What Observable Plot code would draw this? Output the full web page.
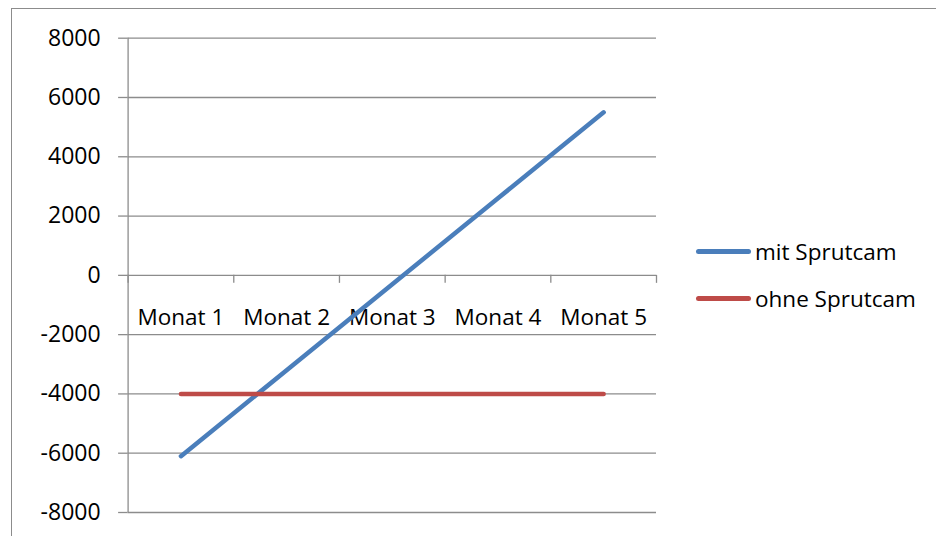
<!DOCTYPE html>
<html>
<head>
<meta charset="utf-8">
<script src="https://cdn.jsdelivr.net/npm/d3@7"></script>
<script src="https://cdn.jsdelivr.net/npm/@observablehq/plot@0.6"></script>
<style>
  html, body { margin: 0; padding: 0; background: #fff; }
  #wrap { position: relative; width: 936px; height: 536px; overflow: hidden; font-family: "Open Sans", sans-serif; }
  #frame { position: absolute; left: 11px; top: 8px; width: 940px; height: 540px; border: 1.5px solid #8c8c8c; box-sizing: border-box; }
  #chart { position: absolute; left: 0; top: 0; }
  #legend { position: absolute; left: 696px; top: 232px; font-size: 22.5px; color: #000; }
  .item { display: flex; align-items: center; height: 38px; margin-bottom: 9px; }
  .swatch { width: 55px; height: 5px; border-radius: 3px; margin-right: 4px; }
</style>
</head>
<body>
<div id="wrap">
  <div id="frame"></div>
  <div id="chart"></div>
  <div id="legend"></div>
</div>
<script>
const months = ["Monat 1", "Monat 2", "Monat 3", "Monat 4", "Monat 5"];
const seriesNames = ["mit Sprutcam", "ohne Sprutcam"];
const mitSprutcam = [-6100, -3200, -300, 2600, 5500];
const ohneSprutcam = [-4000, -4000, -4000, -4000, -4000];
const yTicks = [-8000, -6000, -4000, -2000, 0, 2000, 4000, 6000, 8000];
const colors = ["#4a7ebb", "#be4b48"];

const data = [];
[mitSprutcam, ohneSprutcam].forEach((vals, s) => {
  vals.forEach((v, i) => data.push({series: seriesNames[s], pos: i + 1, value: v}));
});
const positions = months.map((m, i) => i + 1);
const edges = d3.range(0, months.length + 1).map(i => i + 0.5);
const gray = "#8c8c8c";

const chart = Plot.plot({
  width: 936,
  height: 536,
  marginLeft: 127.6,
  marginRight: 280,
  marginTop: 37.7,
  marginBottom: 24,
  style: {fontFamily: "Open Sans, sans-serif", fontSize: "23px", color: "#000", background: "transparent"},
  x: {domain: [0.5, months.length + 0.5], axis: null},
  y: {domain: [-8000, 8000], axis: null},
  color: {domain: seriesNames, range: colors},
  marks: [
    Plot.ruleY(yTicks, {stroke: gray, strokeWidth: 1.3}),
    Plot.ruleX([0.5], {y1: -8000, y2: 8000, stroke: gray, strokeWidth: 1.3}),
    Plot.axisY({ticks: yTicks, tickFormat: d => String(d), label: null, tickSize: 9.5, tickPadding: 18, stroke: gray, fill: "#000", fontSize: 23, strokeWidth: 1.3}),
    Plot.ruleX(edges, {x: d => d, y1: 0, y2: 0, insetBottom: -8, stroke: gray, strokeWidth: 1.3}),
    Plot.text(positions, {x: d => d, y: 0, text: (d, i) => months[i], dy: 42, fontSize: 22.5, fill: "#000"}),
    Plot.line(data, {x: "pos", y: "value", z: "series", stroke: "series", strokeWidth: 4.5, strokeLinecap: "round", strokeLinejoin: "round"})
  ]
});
document.getElementById("chart").appendChild(chart);

const legend = document.getElementById("legend");
seriesNames.forEach((name, i) => {
  const it = document.createElement("div");
  it.className = "item";
  const sw = document.createElement("div");
  sw.className = "swatch";
  sw.style.background = colors[i];
  const tx = document.createElement("span");
  tx.textContent = name;
  it.appendChild(sw);
  it.appendChild(tx);
  legend.appendChild(it);
});
</script>
</body>
</html>
